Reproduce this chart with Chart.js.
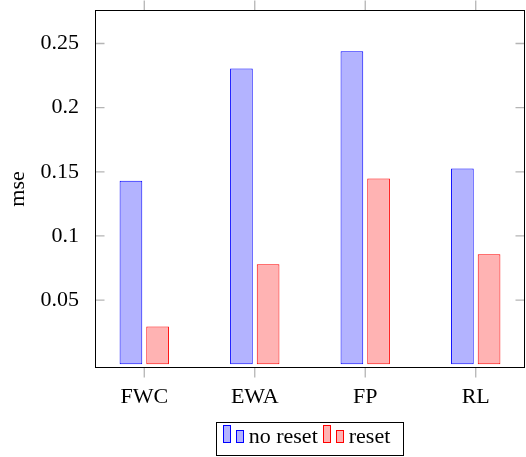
<!DOCTYPE html>
<html>
<head>
<meta charset="utf-8">
<script src="https://cdn.jsdelivr.net/npm/chart.js@4.4.1/dist/chart.umd.min.js"></script>
<style>
    html, body { margin: 0; padding: 0; background: #fff; }
    #wrap { position: relative; width: 526px; height: 457px; }
    #legend {
        position: absolute; left: 95px; width: 430px; top: 422px;
        display: flex; justify-content: center;
    }
    #legend .box {
        box-sizing: border-box; height: 34px; border: 1px solid #000;
        padding: 0 8px 0 6px; line-height: 31px; white-space: nowrap;
        font: 22px "Liberation Serif", serif; color: #000;
    }
    #legend .bar { display: inline-block; box-sizing: border-box; width: 8px; border: 1px solid; vertical-align: baseline; }
    #legend .tall { height: 18px; margin-right: 5px; }
    #legend .short { height: 13px; margin-right: 5px; }
    #legend .txt { margin-right: 5px; }
</style>
</head>
<body>
<div id="wrap">
    <canvas id="chart" width="526" height="457"></canvas>
    <div id="legend"><div class="box"></div></div>
</div>
<script>
(function () {
    'use strict';

    // Data
    const categories = ['FWC', 'EWA', 'FP', 'RL'];
    const noReset = [0.143, 0.2305, 0.244, 0.1525];
    const reset = [0.0295, 0.078, 0.1448, 0.0857];
    const yTicks = [0.05, 0.1, 0.15, 0.2, 0.25];
    const yTickLabels = ['0.05', '0.1', '0.15', '0.2', '0.25'];

    // Colors
    const BLUE = '#0000ff';
    const BLUE_FILL = '#b3b3ff';
    const RED = '#ff0000';
    const RED_FILL = '#ffb3b3';
    const TICK = '#b5b5b5';

    const font = { family: '"Liberation Serif", serif', size: 22 };

    // pgfplots-style frame with inner y ticks and outer x ticks
    const framePlugin = {
        id: 'frame',
        afterDraw(chart) {
            const { ctx, chartArea: a, scales: { x, y } } = chart;
            ctx.save();
            ctx.strokeStyle = TICK;
            ctx.lineWidth = 1.3;
            ctx.beginPath();
            y.ticks.forEach(t => {
                const py = y.getPixelForValue(t.value);
                ctx.moveTo(a.left, py); ctx.lineTo(a.left + 9.5, py);
                ctx.moveTo(a.right, py); ctx.lineTo(a.right - 9.5, py);
            });
            x.ticks.forEach(t => {
                const px = x.getPixelForValue(t.value);
                ctx.moveTo(px, a.bottom); ctx.lineTo(px, a.bottom + 9.5);
                ctx.moveTo(px, a.top); ctx.lineTo(px, a.top - 9.5);
            });
            ctx.stroke();
            ctx.strokeStyle = '#000';
            ctx.lineWidth = 1;
            ctx.strokeRect(a.left + 0.5, a.top + 0.5, a.width - 1, a.height - 1);
            ctx.restore();
        }
    };

    const chart = new Chart(document.getElementById('chart'), {
        type: 'bar',
        data: {
            datasets: [
                {
                    label: 'no reset',
                    data: noReset.map((v, i) => ({ x: i, y: v })),
                    backgroundColor: BLUE_FILL,
                    borderColor: BLUE,
                    borderWidth: 1,
                    borderSkipped: false,
                },
                {
                    label: 'reset',
                    data: reset.map((v, i) => ({ x: i, y: v })),
                    backgroundColor: RED_FILL,
                    borderColor: RED,
                    borderWidth: 1,
                    borderSkipped: false,
                },
            ],
        },
        options: {
            responsive: false,
            animation: false,
            categoryPercentage: 0.483,
            barPercentage: 0.85,
            layout: { padding: { top: 10, right: 1, bottom: 0, left: 0 } },
            plugins: { legend: { display: false }, tooltip: { enabled: false } },
            scales: {
                x: {
                    type: 'linear',
                    offset: false,
                    min: -0.446,
                    max: 3.446,
                    grid: { display: false },
                    border: { display: false },
                    afterBuildTicks: s => { s.ticks = categories.map((c, i) => ({ value: i })); },
                    afterFit: s => { s.height = 89; s.paddingLeft = 0; s.paddingRight = 0; },
                    ticks: {
                        color: '#000',
                        font: font,
                        padding: 8,
                        maxRotation: 0,
                        autoSkip: false,
                        callback: v => categories[v],
                    },
                },
                y: {
                    min: -0.0029,
                    max: 0.2761,
                    grid: { display: false },
                    border: { display: false },
                    afterBuildTicks: s => { s.ticks = yTicks.map(v => ({ value: v })); },
                    afterFit: s => { s.width = 95; s.paddingTop = 0; s.paddingBottom = 0; },
                    ticks: {
                        color: '#000',
                        font: font,
                        padding: 8,
                        callback: v => yTickLabels[yTicks.indexOf(v)],
                    },
                    title: {
                        display: true,
                        text: 'mse',
                        color: '#000',
                        font: font,
                        padding: { top: 5, bottom: 0 },
                    },
                },
            },
        },
        plugins: [framePlugin],
    });

    // Legend built from the datasets
    const box = document.querySelector('#legend .box');
    chart.data.datasets.forEach(ds => {
        ['tall', 'short'].forEach(cls => {
            const b = document.createElement('span');
            b.className = 'bar ' + cls;
            b.style.background = ds.backgroundColor;
            b.style.borderColor = ds.borderColor;
            box.appendChild(b);
        });
        const t = document.createElement('span');
        t.className = 'txt';
        t.textContent = ds.label;
        box.appendChild(t);
    });
})();
</script>
</body>
</html>
